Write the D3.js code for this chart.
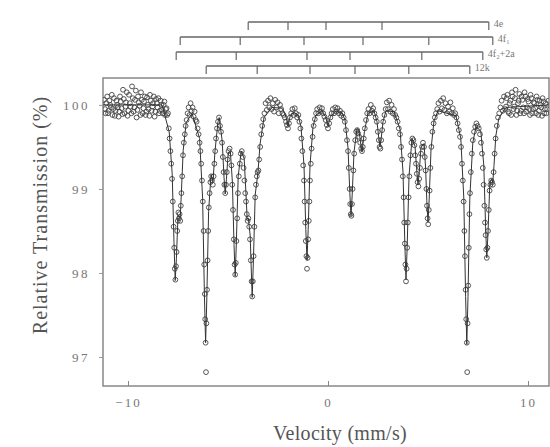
<!DOCTYPE html>
<html>
<head>
<meta charset="utf-8">
<script src="https://cdn.jsdelivr.net/npm/d3@7"></script>
<style>
  body { margin: 0; background: #fff; }
  svg { display: block; }
</style>
</head>
<body>
<div id="chart"></div>
<script>
// tick labels
let xTicks = [-10, 0, 10];
let yTicks = [97, 98, 99, 100];

// site sub-spectra line positions (mm/s)
let sites = ["4e", "4f\u2081", "4f\u2082+2a", "12k"];
let siteLines = [
  [-3.99, -2.0, -0.1, 2.7, 8.04],
  [-7.39, -4.39, -1.2, 1.75, 5.04, 8.24],
  [-7.59, -4.59, -1.05, 1.1, 4.69, 7.74],
  [-6.09, -3.54, -0.9, 1.35, 4.04, 7.09]
];

// fitted curve, [velocity, transmission]
let fitCurve = [
  [-11.25, 100.0], [-8.3, 100.0], [-7.94, 99.68], [-7.79, 99.18], [-7.7, 98.36], [-7.64, 97.91],
  [-7.58, 98.17], [-7.5, 98.68], [-7.45, 98.68], [-7.39, 98.65], [-7.33, 98.96], [-7.24, 99.46],
  [-7.09, 99.79], [-6.8, 99.9], [-6.42, 99.6], [-6.27, 98.89], [-6.18, 97.75], [-6.12, 97.17],
  [-6.06, 97.69], [-5.97, 98.73], [-5.85, 99.17], [-5.75, 99.09], [-5.65, 99.45], [-5.5, 99.8],
  [-5.44, 99.85], [-5.29, 99.57], [-5.2, 99.14], [-5.14, 98.94], [-5.08, 99.11], [-4.99, 99.43],
  [-4.88, 99.44], [-4.78, 99.08], [-4.7, 98.34], [-4.64, 97.96], [-4.58, 98.38], [-4.49, 99.15],
  [-4.34, 99.45], [-4.19, 99.36], [-4.1, 98.93], [-4.04, 98.64], [-3.98, 98.65], [-3.89, 98.44],
  [-3.85, 98.13], [-3.79, 97.71], [-3.73, 98.14], [-3.64, 98.93], [-3.5, 99.2], [-3.4, 99.53],
  [-3.2, 99.85], [-2.8, 99.97], [-2.3, 99.96], [-2.12, 99.88], [-2.0, 99.75], [-1.88, 99.88],
  [-1.7, 99.91], [-1.5, 99.88], [-1.35, 99.74], [-1.2, 99.28], [-1.11, 98.52], [-1.05, 98.15],
  [-0.99, 98.52], [-0.9, 99.28], [-0.75, 99.74], [-0.6, 99.88], [-0.3, 99.93], [-0.12, 99.86],
  [0.0, 99.75], [0.12, 99.86], [0.35, 99.92], [0.7, 99.91], [0.85, 99.82], [1.0, 99.49],
  [1.09, 98.96], [1.15, 98.68], [1.21, 98.93], [1.3, 99.44], [1.45, 99.72], [1.55, 99.7],
  [1.64, 99.53], [1.7, 99.44], [1.82, 99.68], [2.0, 99.9], [2.3, 99.93], [2.45, 99.8],
  [2.54, 99.6], [2.6, 99.5], [2.66, 99.6], [2.75, 99.8], [2.9, 99.93], [3.3, 99.92],
  [3.6, 99.71], [3.75, 99.2], [3.84, 98.36], [3.9, 97.92], [3.96, 98.32], [4.05, 99.15],
  [4.2, 99.6], [4.35, 99.51], [4.44, 99.21], [4.5, 99.05], [4.56, 99.19], [4.65, 99.5],
  [4.8, 99.54], [4.88, 99.25], [4.94, 98.86], [5.0, 98.6], [5.06, 98.88], [5.15, 99.47],
  [5.3, 99.81], [5.5, 99.93], [6.4, 99.87], [6.64, 99.6], [6.79, 98.89], [6.88, 97.72],
  [6.94, 97.15], [7.0, 97.72], [7.09, 98.89], [7.24, 99.55], [7.4, 99.74], [7.64, 99.69],
  [7.79, 99.28], [7.88, 98.55], [7.94, 98.18], [8.0, 98.48], [8.09, 99.06], [8.18, 99.12],
  [8.24, 99.08], [8.3, 99.28], [8.39, 99.63], [8.54, 99.84], [8.9, 99.97], [11.05, 100.0]
];

// measured points, [velocity, transmission]
let observed = [
  [-11.2,100.06],[-11.15,99.95],[-11.12,99.9],[-11.08,100.02],[-11.04,100.1],[-11.0,99.9],[-10.97,99.93],
  [-10.93,100.05],[-10.89,100.0],[-10.85,99.97],[-10.81,100.12],[-10.78,99.88],[-10.74,99.95],[-10.7,100.08],
  [-10.66,99.87],[-10.62,99.93],[-10.58,100.05],[-10.55,100.0],[-10.51,99.97],[-10.47,99.86],[-10.43,99.92],
  [-10.4,100.1],[-10.36,100.04],[-10.32,99.96],[-10.28,99.89],[-10.25,100.18],[-10.21,100.07],[-10.17,99.9],
  [-10.13,99.98],[-10.1,100.03],[-10.06,100.15],[-10.02,99.87],[-9.98,99.93],[-9.95,100.12],[-9.91,100.02],
  [-9.87,99.98],[-9.83,99.9],[-9.8,100.22],[-9.76,100.08],[-9.72,99.92],[-9.68,99.97],[-9.65,100.06],
  [-9.61,100.17],[-9.57,99.85],[-9.53,99.94],[-9.5,100.1],[-9.46,100.03],[-9.42,99.99],[-9.38,99.88],
  [-9.35,100.15],[-9.31,100.06],[-9.27,99.9],[-9.23,99.96],[-9.2,100.04],[-9.16,100.1],[-9.12,99.88],
  [-9.08,99.92],[-9.05,100.09],[-9.01,100.0],[-8.97,99.95],[-8.93,99.87],[-8.9,100.12],[-8.86,100.05],
  [-8.82,99.93],[-8.78,99.98],[-8.75,100.02],[-8.71,100.1],[-8.67,99.86],[-8.63,99.92],[-8.6,100.07],
  [-8.56,100.02],[-8.52,99.97],[-8.48,100.08],[-8.45,99.9],[-8.41,99.93],[-8.37,100.05],[-8.33,100.0],
  [-8.3,99.94],[-8.26,99.9],[-8.22,100.0],[-8.18,100.04],[-8.15,99.88],[-8.11,99.95],[-8.07,99.96],
  [-8.04,99.88],[-8.0,99.9],[-7.96,99.72],[-7.92,99.6],[-7.88,99.45],[-7.84,99.3],[-7.8,99.12],
  [-7.76,98.85],[-7.72,98.55],[-7.69,98.3],[-7.66,98.05],[-7.63,97.92],[-7.6,98.08],[-7.57,98.25],
  [-7.54,98.5],[-7.51,98.62],[-7.48,98.72],[-7.45,98.65],[-7.42,98.7],[-7.39,98.62],[-7.36,98.8],
  [-7.33,98.95],[-7.29,99.15],[-7.25,99.4],[-7.21,99.55],[-7.16,99.65],[-7.12,99.75],[-7.07,99.82],
  [-7.02,99.9],[-6.97,99.97],[-6.92,99.88],[-6.87,100.02],[-6.82,99.93],[-6.77,99.97],[-6.72,99.86],
  [-6.67,99.92],[-6.62,99.82],[-6.57,99.8],[-6.52,99.72],[-6.47,99.65],[-6.42,99.55],
  [-6.38,99.45],[-6.34,99.3],[-6.3,99.1],[-6.26,98.85],[-6.22,98.5],[-6.19,98.1],[-6.16,97.75],
  [-6.14,97.45],[-6.12,97.17],[-6.1,96.82],[-6.08,97.4],[-6.05,97.8],[-6.02,98.15],[-5.99,98.5],
  [-5.96,98.78],[-5.92,98.95],[-5.88,99.08],[-5.84,99.15],[-5.8,99.1],[-5.76,99.05],[-5.72,99.15],
  [-5.68,99.3],[-5.64,99.45],[-5.6,99.6],[-5.55,99.72],[-5.5,99.8],[-5.45,99.85],[-5.4,99.75],
  [-5.35,99.68],[-5.3,99.55],[-5.26,99.38],[-5.22,99.2],[-5.18,99.05],[-5.14,98.95],[-5.1,99.05],
  [-5.06,99.2],[-5.02,99.35],[-4.97,99.45],[-4.92,99.48],[-4.87,99.42],[-4.83,99.28],[-4.79,99.05],
  [-4.75,98.75],[-4.71,98.4],[-4.67,98.1],[-4.64,97.98],[-4.61,98.12],[-4.58,98.38],[-4.54,98.65],
  [-4.5,98.95],[-4.46,99.15],[-4.41,99.3],[-4.36,99.42],[-4.31,99.45],[-4.26,99.38],[-4.22,99.25],
  [-4.18,99.1],[-4.14,98.95],[-4.1,98.85],[-4.06,98.7],[-4.02,98.62],[-3.98,98.65],[-3.94,98.55],
  [-3.9,98.4],[-3.86,98.15],[-3.82,97.9],[-3.79,97.72],[-3.76,97.9],[-3.72,98.2],[-3.68,98.55],
  [-3.64,98.9],[-3.6,99.05],[-3.56,99.15],[-3.52,99.2],[-3.48,99.22],[-3.44,99.35],[-3.39,99.5],
  [-3.34,99.65],[-3.29,99.75],[-3.24,99.83],[-3.18,99.9],[-3.12,100.02],[-3.06,99.94],[-3.0,100.05],
  [-2.94,99.97],[-2.88,100.08],[-2.82,99.95],[-2.76,100.02],[-2.7,99.92],[-2.64,100.06],[-2.58,99.97],
  [-2.52,100.03],[-2.46,99.9],[-2.4,100.0],[-2.34,99.95],[-2.28,99.9],[-2.22,99.88],[-2.16,99.85],
  [-2.1,99.8],[-2.05,99.76],[-2.0,99.72],[-1.95,99.78],[-1.9,99.85],[-1.84,99.9],[-1.78,99.95],
  [-1.72,99.88],[-1.66,99.96],[-1.6,99.9],[-1.54,99.85],[-1.48,99.88],[-1.43,99.8],[-1.38,99.72],
  [-1.33,99.6],[-1.28,99.45],[-1.24,99.28],[-1.2,99.1],[-1.17,98.85],[-1.14,98.6],[-1.11,98.38],
  [-1.08,98.2],[-1.05,98.05],[-1.02,98.18],[-0.99,98.4],[-0.96,98.62],[-0.93,98.85],[-0.9,99.1],
  [-0.86,99.3],[-0.82,99.48],[-0.77,99.62],[-0.72,99.75],[-0.66,99.83],[-0.6,99.9],[-0.54,99.95],
  [-0.48,99.9],[-0.42,99.97],[-0.36,99.92],[-0.3,99.96],[-0.24,99.9],[-0.18,99.86],[-0.12,99.82],
  [-0.06,99.76],[0.0,99.72],[0.06,99.78],[0.12,99.85],[0.18,99.9],[0.24,99.95],[0.3,99.9],
  [0.36,99.97],[0.42,99.92],[0.48,99.96],[0.54,99.9],[0.6,99.93],[0.66,99.87],[0.72,99.9],
  [0.78,99.85],[0.84,99.8],[0.9,99.7],[0.95,99.58],[1.0,99.45],[1.04,99.25],[1.08,99.0],
  [1.11,98.82],[1.14,98.7],[1.17,98.68],[1.2,98.82],[1.23,99.0],[1.27,99.22],[1.31,99.42],
  [1.36,99.58],[1.41,99.68],[1.46,99.7],[1.51,99.66],[1.56,99.62],[1.61,99.55],[1.66,99.48],
  [1.7,99.45],[1.74,99.5],[1.79,99.6],[1.84,99.72],[1.9,99.82],[1.96,99.9],[2.02,99.95],
  [2.08,99.9],[2.14,100.0],[2.2,99.93],[2.26,99.96],[2.32,99.9],[2.38,99.85],[2.44,99.8],
  [2.49,99.68],[2.54,99.58],[2.58,99.5],[2.62,99.48],[2.66,99.58],[2.71,99.7],[2.76,99.8],
  [2.82,99.88],[2.88,99.95],[2.94,100.03],[3.0,99.95],[3.06,100.05],[3.12,99.92],[3.18,100.0],
  [3.24,99.9],[3.3,99.95],[3.36,99.88],[3.42,99.85],[3.48,99.8],[3.54,99.72],[3.6,99.65],
  [3.65,99.5],[3.7,99.35],[3.74,99.15],[3.78,98.9],[3.81,98.6],[3.84,98.35],[3.87,98.1],
  [3.9,97.9],[3.93,98.05],[3.96,98.3],[3.99,98.6],[4.03,98.9],[4.07,99.15],[4.12,99.4],
  [4.17,99.55],[4.22,99.6],[4.27,99.58],[4.32,99.52],[4.36,99.4],[4.4,99.3],[4.44,99.18],
  [4.48,99.08],[4.52,99.03],[4.56,99.12],[4.6,99.25],[4.65,99.42],[4.7,99.5],[4.75,99.55],
  [4.8,99.5],[4.84,99.38],[4.88,99.22],[4.92,99.0],[4.95,98.8],[4.98,98.65],[5.01,98.58],
  [5.04,98.75],[5.08,98.98],[5.12,99.25],[5.17,99.5],[5.22,99.68],[5.28,99.78],[5.34,99.85],
  [5.4,99.9],[5.46,99.95],[5.52,100.02],[5.58,99.92],[5.64,100.05],[5.7,99.96],[5.76,100.08],
  [5.82,99.94],[5.88,100.02],[5.94,99.9],[6.0,99.98],[6.06,99.92],[6.12,100.03],[6.18,99.9],
  [6.24,99.96],[6.3,99.88],[6.36,99.9],[6.42,99.85],[6.48,99.78],[6.54,99.7],[6.6,99.62],
  [6.65,99.5],[6.7,99.3],[6.74,99.1],[6.78,98.85],[6.82,98.5],[6.85,98.2],[6.88,97.8],
  [6.91,97.45],[6.94,97.17],[6.96,96.82],[6.98,97.4],[7.01,97.85],[7.04,98.3],[7.07,98.7],
  [7.1,98.95],[7.14,99.2],[7.19,99.42],[7.24,99.58],[7.3,99.68],[7.36,99.74],[7.42,99.78],
  [7.48,99.75],[7.54,99.72],[7.6,99.65],[7.65,99.55],[7.7,99.42],[7.74,99.25],[7.78,99.05],
  [7.82,98.8],[7.85,98.6],[7.88,98.45],[7.91,98.28],[7.94,98.18],[7.97,98.3],[8.0,98.5],
  [8.04,98.75],[8.08,98.98],[8.12,99.05],[8.16,99.1],[8.2,99.08],[8.24,99.05],[8.28,99.2],
  [8.33,99.42],[8.38,99.6],[8.44,99.75],[8.5,99.85],[8.56,99.9],[8.62,99.97],[8.68,100.05],
  [8.74,99.93],[8.8,100.1],[8.86,99.95],[8.9,99.98],[8.93,100.08],[8.97,100.12],[9.01,99.92],
  [9.05,99.9],[9.08,100.02],[9.12,100.05],[9.16,99.88],[9.2,100.15],[9.23,100.1],[9.27,99.95],
  [9.31,99.98],[9.35,100.08],[9.38,100.18],[9.42,99.88],[9.46,99.93],[9.5,100.02],[9.53,100.05],
  [9.57,100.13],[9.61,99.9],[9.65,99.93],[9.68,100.1],[9.72,100.06],[9.76,99.97],[9.8,99.9],
  [9.83,100.15],[9.87,100.1],[9.91,99.92],[9.95,99.97],[9.98,100.07],[10.02,100.04],[10.06,99.95],
  [10.1,99.88],[10.13,100.12],[10.17,100.08],[10.21,99.9],[10.25,99.95],[10.28,100.03],[10.32,100.02],
  [10.36,99.96],[10.4,99.9],[10.43,100.1],[10.47,100.06],[10.51,99.88],[10.55,99.93],[10.58,100.05],
  [10.62,100.0],[10.66,99.97],[10.7,99.87],[10.73,100.08],[10.77,100.04],[10.81,99.9],[10.85,99.95],
  [10.88,100.02],[10.92,99.9],[10.96,99.95],[11.02,100.05]
];

let width = 550, height = 447;
let plotLeft = 103, plotRight = 549, plotTop = 78, plotBottom = 386;

let svg = d3.select('#chart').append('svg')
  .attr('width', width)
  .attr('height', height);

let x = d3.scaleLinear().domain([-11.25, 11.05]).range([plotLeft, plotRight]);
let y = d3.scaleLinear().domain([96.655, 100.32]).range([plotBottom, plotTop]);

svg.append('clipPath').attr('id', 'plot')
  .append('rect')
  .attr('x', plotLeft).attr('y', plotTop)
  .attr('width', plotRight - plotLeft).attr('height', plotBottom - plotTop);

// frame
svg.append('rect')
  .attr('x', plotLeft).attr('y', plotTop)
  .attr('width', plotRight - plotLeft).attr('height', plotBottom - plotTop)
  .attr('fill', 'none')
  .attr('stroke', '#888')
  .attr('stroke-width', 1.5);

// axes
svg.append('g')
  .attr('transform', 'translate(0,' + plotBottom + ')')
  .call(d3.axisBottom(x).tickValues(xTicks).tickSizeInner(-5).tickSizeOuter(0).tickPadding(12)
    .tickFormat(d => d < 0 ? '\u2212' + Math.abs(d) : d))
  .call(g => g.select('.domain').remove())
  .call(g => g.selectAll('line').attr('stroke', '#888'))
  .call(g => g.selectAll('text').attr('fill', '#777')
    .style('font-family', 'Liberation Serif').style('font-size', '13px').style('letter-spacing', '2px'));

svg.append('g')
  .attr('transform', 'translate(' + plotLeft + ',0)')
  .call(d3.axisLeft(y).tickValues(yTicks).tickSize(4).tickPadding(9).tickFormat(d3.format('d')))
  .call(g => g.select('.domain').remove())
  .call(g => g.selectAll('line').attr('stroke', '#999'))
  .call(g => g.selectAll('text').attr('fill', '#777')
    .style('font-family', 'Liberation Serif').style('font-size', '13px').style('letter-spacing', '2.5px'));

// axis titles
svg.append('text')
  .attr('x', 340).attr('y', 440)
  .attr('text-anchor', 'middle')
  .attr('fill', '#555')
  .style('font-family', 'Liberation Serif')
  .style('font-size', '20px')
  .style('letter-spacing', '0.3px')
  .text('Velocity (mm/s)');

svg.append('text')
  .attr('transform', 'translate(47,' + 215 + ') rotate(-90)')
  .attr('text-anchor', 'middle')
  .attr('fill', '#555')
  .style('font-family', 'Liberation Serif')
  .style('font-size', '20px')
  .style('letter-spacing', '1px')
  .text('Relative Transmission (%)');

let plot = svg.append('g').attr('clip-path', 'url(#plot)');

// measured points
plot.selectAll('circle')
  .data(observed)
  .enter()
  .append('circle')
  .attr('cx', d => x(d[0]))
  .attr('cy', d => y(d[1]))
  .attr('r', 2.4)
  .attr('fill', 'none')
  .attr('stroke', '#444')
  .attr('stroke-width', 0.9);

// fit
plot.append('path')
  .datum(fitCurve)
  .attr('d', d3.line().x(d => x(d[0])).y(d => y(d[1])))
  .attr('fill', 'none')
  .attr('stroke', '#333')
  .attr('stroke-width', 1);

// stick diagrams
let rowY = [22, 37, 52, 66];
let sticks = svg.append('g');
siteLines.forEach(function(lines, i) {
  let g = sticks.append('g');
  let x0 = x(d3.min(lines)), x1 = x(d3.max(lines));
  g.append('line')
    .attr('x1', x0).attr('x2', x1)
    .attr('y1', rowY[i]).attr('y2', rowY[i])
    .attr('stroke', '#666').attr('stroke-width', 1.3);
  g.selectAll('line.tick')
    .data(lines)
    .enter()
    .append('line')
    .attr('class', 'tick')
    .attr('x1', d => x(d)).attr('x2', d => x(d))
    .attr('y1', rowY[i]).attr('y2', rowY[i] + 8)
    .attr('stroke', '#666').attr('stroke-width', 1.2);
  g.append('text')
    .attr('x', x1 + 5).attr('y', rowY[i] + 5)
    .attr('fill', '#777')
    .style('font-family', 'Liberation Serif')
    .style('font-size', '10px')
    .text(sites[i]);
});
</script>
</body>
</html>
